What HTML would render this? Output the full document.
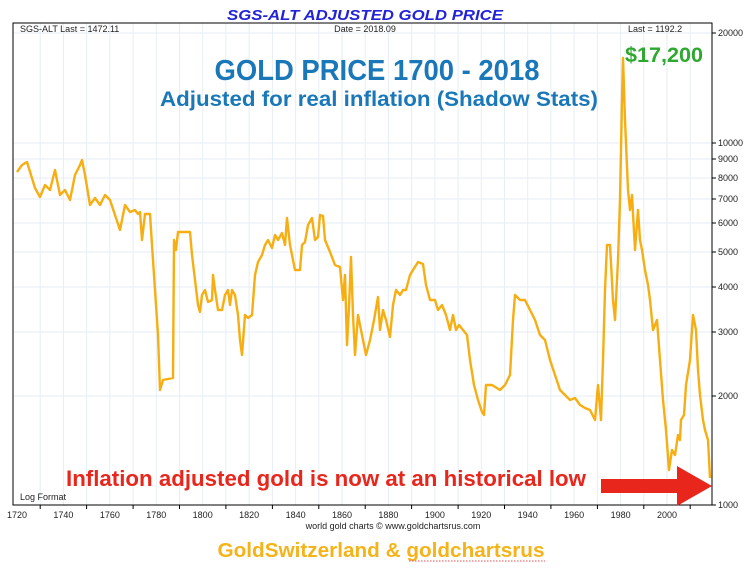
<!DOCTYPE html>
<html><head><meta charset="utf-8"><style>
html,body{margin:0;padding:0;background:#fff;}
svg{display:block;font-family:"Liberation Sans Narrow","Liberation Sans",sans-serif;}
</style></head><body>
<svg width="755" height="568" viewBox="0 0 755 568" xmlns="http://www.w3.org/2000/svg">
<rect width="755" height="568" fill="#fff"/>
<g stroke="#e6eef6" stroke-width="1">
<line x1="40.2" y1="23" x2="40.2" y2="505"/><line x1="63.4" y1="23" x2="63.4" y2="505"/><line x1="86.6" y1="23" x2="86.6" y2="505"/><line x1="109.9" y1="23" x2="109.9" y2="505"/><line x1="133.1" y1="23" x2="133.1" y2="505"/><line x1="156.3" y1="23" x2="156.3" y2="505"/><line x1="179.5" y1="23" x2="179.5" y2="505"/><line x1="202.7" y1="23" x2="202.7" y2="505"/><line x1="225.9" y1="23" x2="225.9" y2="505"/><line x1="249.1" y1="23" x2="249.1" y2="505"/><line x1="272.4" y1="23" x2="272.4" y2="505"/><line x1="295.6" y1="23" x2="295.6" y2="505"/><line x1="318.8" y1="23" x2="318.8" y2="505"/><line x1="342" y1="23" x2="342" y2="505"/><line x1="365.2" y1="23" x2="365.2" y2="505"/><line x1="388.4" y1="23" x2="388.4" y2="505"/><line x1="411.6" y1="23" x2="411.6" y2="505"/><line x1="434.9" y1="23" x2="434.9" y2="505"/><line x1="458.1" y1="23" x2="458.1" y2="505"/><line x1="481.3" y1="23" x2="481.3" y2="505"/><line x1="504.5" y1="23" x2="504.5" y2="505"/><line x1="527.7" y1="23" x2="527.7" y2="505"/><line x1="550.9" y1="23" x2="550.9" y2="505"/><line x1="574.1" y1="23" x2="574.1" y2="505"/><line x1="597.4" y1="23" x2="597.4" y2="505"/><line x1="620.6" y1="23" x2="620.6" y2="505"/><line x1="643.8" y1="23" x2="643.8" y2="505"/><line x1="667" y1="23" x2="667" y2="505"/><line x1="690.2" y1="23" x2="690.2" y2="505"/>
<line x1="13" y1="396" x2="712" y2="396"/><line x1="13" y1="332" x2="712" y2="332"/><line x1="13" y1="287" x2="712" y2="287"/><line x1="13" y1="252" x2="712" y2="252"/><line x1="13" y1="223" x2="712" y2="223"/><line x1="13" y1="199" x2="712" y2="199"/><line x1="13" y1="178" x2="712" y2="178"/><line x1="13" y1="159" x2="712" y2="159"/><line x1="13" y1="143" x2="712" y2="143"/><line x1="13" y1="33" x2="712" y2="33"/>
</g>
<rect x="13" y="23" width="699" height="482" fill="none" stroke="#000" stroke-width="1"/>
<text x="365" y="20" text-anchor="middle" font-size="15" font-weight="bold" font-style="italic" fill="#2323d8" textLength="276" lengthAdjust="spacingAndGlyphs">SGS-ALT ADJUSTED  GOLD PRICE</text>
<g font-size="9" fill="#222">
<text x="20" y="32">SGS-ALT Last = 1472.11</text>
<text x="365" y="32" text-anchor="middle">Date = 2018.09</text>
<text x="628" y="32">Last = 1192.2</text>
<text x="20" y="500">Log Format</text>
</g>
<polyline fill="none" stroke="#f7ae12" stroke-width="2.4" stroke-linejoin="round" points="17,172 22,165 27,162 31,175 35,188 40,197 45,185 50,190 55,170 60,195 65,190 70,200 75,175 80,165 82,160 85,175 90,205 95,198 100,205 105,195 110,200 115,215 120,230 125,205 130,212 135,210 138,214 140,212 142,240 145,214 150,214 152,245 155,290 158,335 160,390 163,380 173,378 174,240 176,250 178,232 190,232 192,255 195,280 198,305 200,312 202,295 205,290 208,302 212,300 213,275 215,290 218,310 222,310 225,295 228,290 230,305 232,290 235,295 238,315 240,340 242,355 245,315 248,318 252,315 255,275 258,262 262,255 265,245 268,240 272,248 275,235 278,240 282,233 285,245 287,218 290,245 295,270 300,270 302,245 305,242 308,225 312,218 315,240 318,237 320,215 323,216 325,240 330,252 335,265 340,267 343,300 345,275 347,345 349,307 351,257 353,315 355,355 358,315 362,335 366,355 370,340 374,320 378,297 380,330 383,310 386,320 390,337 393,305 396,290 400,295 403,290 406,290 410,275 413,270 418,262 423,264 426,285 430,300 435,300 438,310 442,305 446,315 450,330 453,315 456,330 459,325 463,330 467,335 470,360 474,385 478,400 482,412 484,415 486,385 492,385 500,390 505,385 510,375 513,320 515,295 520,300 525,300 530,310 535,320 540,335 545,340 550,360 555,375 560,390 565,395 570,400 575,398 580,405 585,408 590,410 595,420 598,385 601,420 603,360 605,290 607,245 610,245 613,300 615,320 618,260 620,200 622,100 623,58 625,120 628,190 630,210 632,195 635,250 638,210 640,240 642,250 645,270 648,285 650,300 653,330 657,320 660,360 663,400 666,430 669,470 672,450 675,455 678,435 680,440 681,420 684,415 686,385 690,360 693,315 696,330 698,370 700,395 703,420 705,430 708,440 710,478"/>
<text x="377" y="80" text-anchor="middle" font-size="29" font-weight="bold" fill="#1a78b8" textLength="325" lengthAdjust="spacingAndGlyphs">GOLD PRICE 1700 - 2018</text>
<text x="379" y="106" text-anchor="middle" font-size="21" font-weight="bold" fill="#1a78b8" textLength="438" lengthAdjust="spacingAndGlyphs">Adjusted for real inflation (Shadow Stats)</text>
<text x="664" y="62" text-anchor="middle" font-size="21" font-weight="bold" fill="#2ea82e" textLength="78" lengthAdjust="spacingAndGlyphs">$17,200</text>
<text x="66" y="486" font-size="22" font-weight="bold" fill="#e8261c" textLength="520" lengthAdjust="spacingAndGlyphs">Inflation adjusted gold is now at an historical low</text>
<rect x="601" y="479" width="78" height="14" fill="#e8261c"/>
<polygon points="677,466 712,486 677,506" fill="#e8261c"/>
<g stroke="#000" stroke-width="1">
<line x1="712" y1="505" x2="716" y2="505"/><line x1="712" y1="396" x2="716" y2="396"/><line x1="712" y1="332" x2="716" y2="332"/><line x1="712" y1="287" x2="716" y2="287"/><line x1="712" y1="252" x2="716" y2="252"/><line x1="712" y1="223" x2="716" y2="223"/><line x1="712" y1="199" x2="716" y2="199"/><line x1="712" y1="178" x2="716" y2="178"/><line x1="712" y1="159" x2="716" y2="159"/><line x1="712" y1="143" x2="716" y2="143"/><line x1="712" y1="33" x2="716" y2="33"/>
</g>
<g font-size="9" fill="#222">
<text x="718" y="508">1000</text><text x="718" y="399">2000</text><text x="718" y="335">3000</text><text x="718" y="290">4000</text><text x="718" y="255">5000</text><text x="718" y="226">6000</text><text x="718" y="202">7000</text><text x="718" y="181">8000</text><text x="718" y="162">9000</text><text x="718" y="146">10000</text><text x="718" y="36">20000</text>
</g>
<g stroke="#000" stroke-width="1">
<line x1="40.2" y1="505" x2="40.2" y2="509"/><line x1="86.6" y1="505" x2="86.6" y2="509"/><line x1="133.1" y1="505" x2="133.1" y2="509"/><line x1="179.5" y1="505" x2="179.5" y2="509"/><line x1="225.9" y1="505" x2="225.9" y2="509"/><line x1="272.4" y1="505" x2="272.4" y2="509"/><line x1="318.8" y1="505" x2="318.8" y2="509"/><line x1="365.2" y1="505" x2="365.2" y2="509"/><line x1="411.6" y1="505" x2="411.6" y2="509"/><line x1="458.1" y1="505" x2="458.1" y2="509"/><line x1="504.5" y1="505" x2="504.5" y2="509"/><line x1="550.9" y1="505" x2="550.9" y2="509"/><line x1="597.4" y1="505" x2="597.4" y2="509"/><line x1="643.8" y1="505" x2="643.8" y2="509"/><line x1="690.2" y1="505" x2="690.2" y2="509"/>
</g>
<g font-size="9" fill="#222" text-anchor="middle">
<text x="17" y="518">1720</text><text x="63.4" y="518">1740</text><text x="109.9" y="518">1760</text><text x="156.3" y="518">1780</text><text x="202.7" y="518">1800</text><text x="249.1" y="518">1820</text><text x="295.6" y="518">1840</text><text x="342" y="518">1860</text><text x="388.4" y="518">1880</text><text x="434.9" y="518">1900</text><text x="481.3" y="518">1920</text><text x="527.7" y="518">1940</text><text x="574.1" y="518">1960</text><text x="620.6" y="518">1980</text><text x="667" y="518">2000</text>
<text x="393" y="529">world gold charts © www.goldchartsrus.com</text>
</g>
<text x="381" y="557" text-anchor="middle" font-size="20" font-weight="bold" fill="#f5b31a" textLength="327" lengthAdjust="spacingAndGlyphs">GoldSwitzerland &amp; goldchartsrus</text>
<line x1="409" y1="561" x2="545" y2="561" stroke="#e05050" stroke-width="1" stroke-dasharray="1.5,1.5"/>
</svg>
</body></html>
